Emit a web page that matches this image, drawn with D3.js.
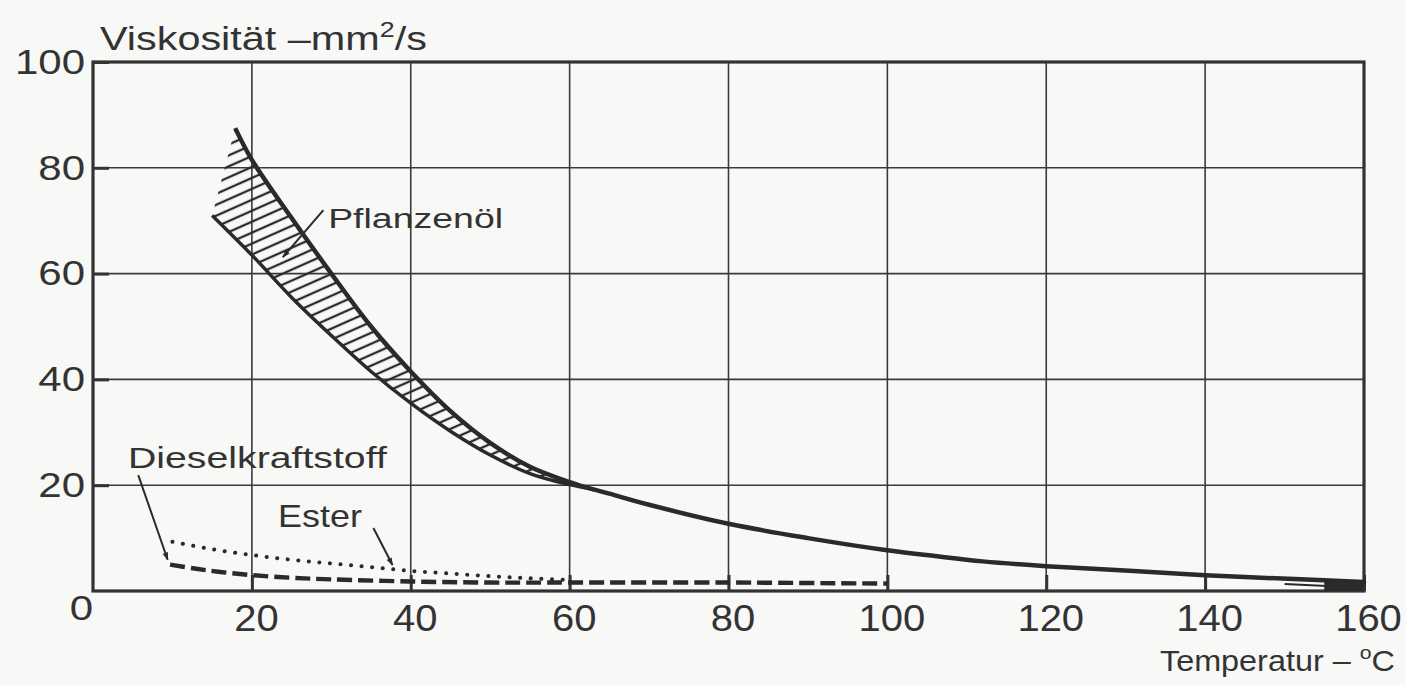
<!DOCTYPE html>
<html>
<head>
<meta charset="utf-8">
<script src="https://cdn.jsdelivr.net/npm/d3@7"></script>
<style>
  html, body { margin: 0; padding: 0; background: #f8f8f7; }
  svg { display: block; }
  text { font-family: "Liberation Sans", Arial, Helvetica, sans-serif; fill: #333; }
</style>
</head>
<body>
<div id="chart"></div>
<script>
// Pflanzenöl band (upper and lower edge), merging into one curve
const oilUpperT = [17.9, 20, 25, 30, 35, 40, 45, 50, 55, 60, 63];
const oilUpperV = [87.5, 81.5, 70.5, 60, 50, 41.5, 34, 28, 23.5, 20.6, 19.2];
const oilLowerT = [15, 20, 25, 30, 35, 40, 45, 50, 55, 60, 63];
const oilLowerV = [71, 63.5, 55.5, 48.3, 41.5, 35.5, 30.2, 25.7, 22.2, 20.1, 19.2];
const oilT = [63, 65, 70, 80, 90, 100, 106, 112, 120, 131, 140, 152, 160];
const oilV = [19.2, 18.4, 16.3, 12.7, 10, 7.7, 6.6, 5.6, 4.7, 3.8, 3.0, 2.2, 1.7];
const oilTailT = [150, 160];
const oilTailV = [1.3, 0.6];

// Dieselkraftstoff (dashed) and Ester (dotted)
const dieselT = [9.7, 13, 16, 20, 25, 30, 40, 50, 60, 80, 100];
const dieselV = [5.0, 4.2, 3.6, 3.0, 2.5, 2.2, 1.8, 1.6, 1.6, 1.6, 1.4];
const esterT = [10, 15, 20, 25, 30, 35, 40, 45, 50, 55, 60];
const esterV = [9.3, 7.9, 6.8, 5.9, 5.2, 4.5, 3.8, 3.3, 2.8, 2.4, 2.1];

const xTicks = [20, 40, 60, 80, 100, 120, 140, 160];
const yTicks = [20, 40, 60, 80, 100];

// labels with arrows, in data units: text anchor, arrow from -> to
const labelNames = ["Pflanzenöl", "Dieselkraftstoff", "Ester"];
const labelPos = [[29.6, 68.6], [4.4, 23.3], [23.3, 12.1]];
const labelWidth = [175, 259, 84];
const labelSize = [28, 29, 31];
const arrowFrom = [[29.0, 72.0], [5.7, 21.9], [35.3, 11.9]];
const arrowTo = [[23.9, 63.1], [9.4, 5.9], [37.7, 4.9]];

(function() {
  const W = 1406, H = 685;
  const margin = { top: 62, right: 42, bottom: 94, left: 93 };

  let svg = d3.select("#chart").append("svg")
    .attr("width", W).attr("height", H);

  let x = d3.scaleLinear().domain([0, 160]).range([margin.left, W - margin.right]);
  let y = d3.scaleLinear().domain([0, 100]).range([H - margin.bottom, margin.top]);

  let defs = svg.append("defs");
  let pat = defs.append("pattern")
    .attr("id", "hatch")
    .attr("patternUnits", "userSpaceOnUse")
    .attr("width", 12).attr("height", 10)
    .attr("patternTransform", "rotate(-24)");
  pat.append("line")
    .attr("x1", 0).attr("x2", 12).attr("y1", 5).attr("y2", 5)
    .attr("stroke", "#2a2a2a").attr("stroke-width", 2.3);

  defs.append("marker")
    .attr("id", "head")
    .attr("viewBox", "0 0 10 10")
    .attr("refX", 9).attr("refY", 5)
    .attr("markerWidth", 14).attr("markerHeight", 8)
    .attr("markerUnits", "userSpaceOnUse")
    .attr("orient", "auto")
    .append("path")
    .attr("d", "M0,1.5 L10,5 L0,8.5 Z")
    .attr("fill", "#2a2a2a");

  // grid
  let grid = svg.append("g").attr("stroke", "#3a3a3a").attr("stroke-width", 1.6);
  grid.selectAll("line.v").data(xTicks.slice(0, -1)).enter().append("line")
    .attr("x1", d => x(d)).attr("x2", d => x(d))
    .attr("y1", y(0)).attr("y2", y(100));
  grid.selectAll("line.h").data(yTicks.slice(0, -1)).enter().append("line")
    .attr("x1", x(0)).attr("x2", x(160))
    .attr("y1", d => y(d)).attr("y2", d => y(d));

  // axes (inner ticks, labels outside)
  let yAxis = d3.axisLeft(y).tickValues(yTicks).tickSizeInner(-16).tickSizeOuter(0).tickPadding(8);
  let gy = svg.append("g").attr("transform", "translate(" + x(0) + ",0)").call(yAxis);
  gy.select(".domain").remove();
  gy.selectAll("line").attr("stroke", "#333").attr("stroke-width", 3);
  gy.selectAll("text")
    .attr("x", 0)
    .attr("transform", "translate(-8,0) scale(1.2,1)")
    .style("font-size", "35px").style("font-family", null).attr("fill", "#333");

  let xAxis = d3.axisBottom(x).tickValues(xTicks).tickSizeInner(-16).tickSizeOuter(0).tickPadding(14);
  let gx = svg.append("g").attr("transform", "translate(0," + y(0) + ")").call(xAxis);
  gx.select(".domain").remove();
  gx.selectAll("line").attr("stroke", "#333").attr("stroke-width", 3);
  gx.selectAll("text")
    .attr("x", 0)
    .attr("transform", "translate(4,0) scale(1.08,1)")
    .style("font-size", "37px").style("font-family", null).attr("fill", "#333");

  // origin label
  svg.append("text")
    .attr("x", 0).attr("y", y(0) + 29)
    .attr("text-anchor", "end")
    .attr("transform", "translate(" + x(0) + ",0) scale(1.2,1)")
    .style("font-size", "35px").text("0");

  // frame
  svg.append("rect")
    .attr("x", x(0)).attr("y", y(100))
    .attr("width", x(160) - x(0)).attr("height", y(0) - y(100))
    .attr("fill", "none").attr("stroke", "#333").attr("stroke-width", 3.2);

  // curves
  let zip = (ts, vs) => ts.map((t, i) => [t, vs[i]]);
  let line = d3.line().x(d => x(d[0])).y(d => y(d[1])).curve(d3.curveCatmullRom.alpha(0.5));

  let upper = zip(oilUpperT, oilUpperV);
  let lower = zip(oilLowerT, oilLowerV);

  let bandPath = line(upper) + "L" + line(lower.slice().reverse()).slice(1) + "Z";
  svg.append("path").attr("d", bandPath).attr("fill", "url(#hatch)").attr("stroke", "none");

  svg.append("path").attr("d", line(upper))
    .attr("fill", "none").attr("stroke", "#2a2a2a").attr("stroke-width", 4.5);
  svg.append("path").attr("d", line(lower))
    .attr("fill", "none").attr("stroke", "#2a2a2a").attr("stroke-width", 3.5);
  svg.append("path").attr("d", line(zip(oilT, oilV)))
    .attr("fill", "none").attr("stroke", "#2a2a2a").attr("stroke-width", 4.5)
    .attr("stroke-linecap", "round");
  svg.append("path").attr("d", line(zip(oilTailT, oilTailV)))
    .attr("fill", "none").attr("stroke", "#2a2a2a").attr("stroke-width", 2);
  svg.append("path")
    .attr("d", d3.area().x(d => x(d[0])).y0(y(0)).y1(d => y(d[1]))(zip([155, 160], [1.9, 1.7])))
    .attr("fill", "#2a2a2a");

  svg.append("path").attr("d", line(zip(dieselT, dieselV)))
    .attr("fill", "none").attr("stroke", "#2a2a2a").attr("stroke-width", 4.4)
    .attr("stroke-dasharray", "15 6");
  svg.append("path").attr("d", line(zip(esterT, esterV)))
    .attr("fill", "none").attr("stroke", "#2a2a2a").attr("stroke-width", 4)
    .attr("stroke-linecap", "round").attr("stroke-dasharray", "0.1 10.5");

  // fits text to a measured width by stretching it horizontally
  function fitText(sel, width) {
    let w = sel.node().getComputedTextLength();
    let x0 = +sel.attr("x");
    let k = width / w;
    sel.attr("transform", "translate(" + x0 + ",0) scale(" + k + ",1) translate(" + (-x0) + ",0)");
  }

  // labels and arrows
  labelNames.forEach(function(name, i) {
    let t = svg.append("text")
      .attr("x", x(labelPos[i][0])).attr("y", y(labelPos[i][1]))
      .style("font-size", labelSize[i] + "px")
      .text(name);
    fitText(t, labelWidth[i]);
    svg.append("line")
      .attr("x1", x(arrowFrom[i][0])).attr("y1", y(arrowFrom[i][1]))
      .attr("x2", x(arrowTo[i][0])).attr("y2", y(arrowTo[i][1]))
      .attr("stroke", "#2a2a2a").attr("stroke-width", 2)
      .attr("marker-end", "url(#head)");
  });

  // axis titles
  let yt = svg.append("text").attr("x", 100).attr("y", 50).style("font-size", "34px");
  yt.append("tspan").text("Viskosität –mm");
  yt.append("tspan").attr("dy", -13).style("font-size", "22px").text("2");
  yt.append("tspan").attr("dy", 13).text("/s");
  fitText(yt, 327);

  let xt = svg.append("text").attr("x", 1160).attr("y", 671).style("font-size", "29px");
  xt.append("tspan").text("Temperatur – ");
  xt.append("tspan").attr("dy", -12).style("font-size", "19px").text("o");
  xt.append("tspan").attr("dy", 12).text("C");
  fitText(xt, 235);
})();
</script>
</body>
</html>
